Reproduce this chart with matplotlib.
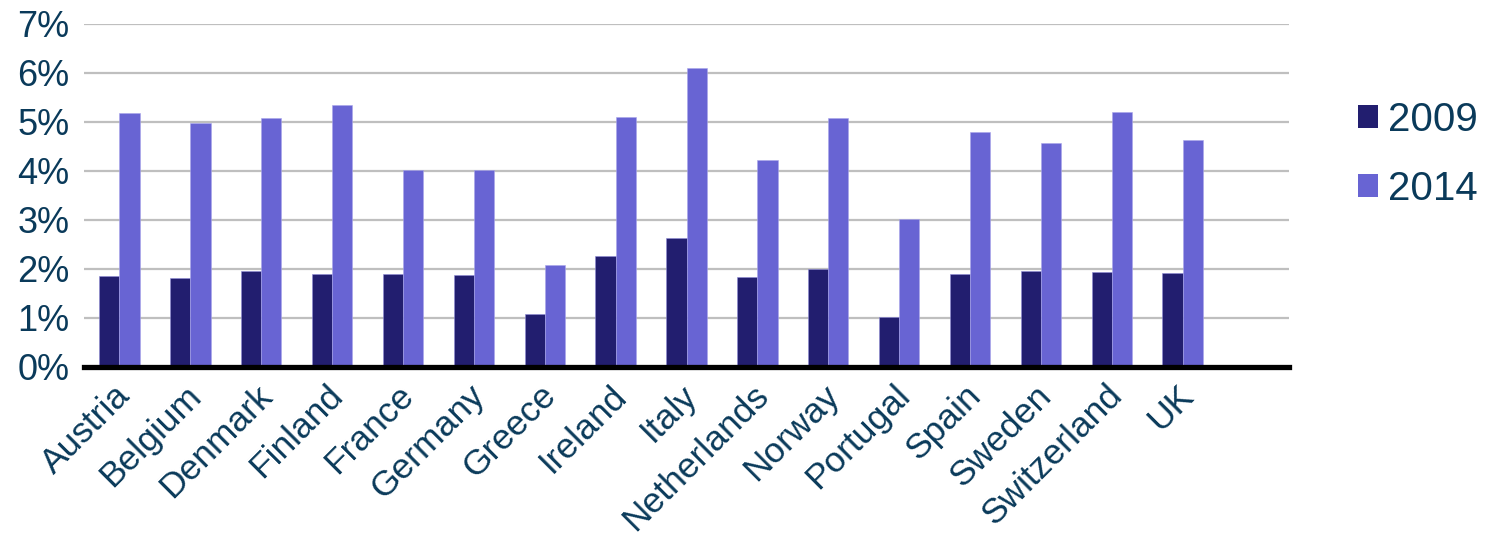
import matplotlib
matplotlib.use("Agg")
import matplotlib.pyplot as plt
from matplotlib.patches import Patch
from matplotlib.transforms import ScaledTranslation
from matplotlib.ticker import FuncFormatter
import numpy as np

countries = ["Austria", "Belgium", "Denmark", "Finland", "France", "Germany",
             "Greece", "Ireland", "Italy", "Netherlands", "Norway", "Portugal",
             "Spain", "Sweden", "Switzerland", "UK"]
share_2009 = [1.85, 1.80, 1.95, 1.89, 1.90, 1.88, 1.08, 2.25, 2.63, 1.84,
              1.99, 1.01, 1.90, 1.96, 1.94, 1.91]
share_2014 = [5.18, 4.97, 5.07, 5.35, 4.01, 4.02, 2.07, 5.09, 6.09, 4.22,
              5.07, 3.01, 4.79, 4.56, 5.20, 4.62]
series_names = ["2009", "2014"]
y_ticks = [0, 1, 2, 3, 4, 5, 6, 7]

C_2009 = "#221E6F"
C_2014 = "#6864D3"
TEXT = "#0A3A5A"

plt.rcParams["font.family"] = ["Liberation Sans", "DejaVu Sans"]

fig = plt.figure(figsize=(14.90, 5.41), dpi=100)
ax = fig.add_axes([0.0564, 0.3222, 0.8087, 0.6340])

x = np.arange(len(countries))
w = 0.285
ax.bar(x - w / 2, share_2009, width=w, color=C_2009, edgecolor="#8f8cd8",
       linewidth=0.4, zorder=3)
ax.bar(x + w / 2, share_2014, width=w, color=C_2014, edgecolor="#a9a6ea",
       linewidth=0.4, zorder=3)

# one empty slot is kept to the right of the last group
ax.set_xlim(-0.5, len(countries) + 0.5)
ax.set_ylim(0, 7)
ax.set_yticks(y_ticks)
ax.yaxis.set_major_formatter(FuncFormatter(lambda v, p: f"{v:.0f}%"))
ax.grid(axis="y", color="#BFBFBF", linewidth=1.6, zorder=0)
ax.set_axisbelow(True)

for s in ["left", "right", "top"]:
    ax.spines[s].set_visible(False)
ax.spines["bottom"].set_color("black")
ax.spines["bottom"].set_linewidth(3.8)
ax.spines["bottom"].set_zorder(4)

ax.tick_params(axis="y", length=0, pad=10.5, labelsize=26, labelcolor=TEXT)
ax.tick_params(axis="x", length=0, pad=0, labelsize=25.5, labelcolor=TEXT)

ax.set_xticks(x)
ax.set_xticklabels(countries, rotation=45, ha="right", va="top",
                   rotation_mode="anchor")
shift = ScaledTranslation(-6 / 100, -12 / 100, fig.dpi_scale_trans)
for lab in ax.get_xticklabels():
    lab.set_transform(lab.get_transform() + shift)

handles = [Patch(facecolor=C_2009, edgecolor="none"),
           Patch(facecolor=C_2014, edgecolor="none")]
leg = fig.legend(handles, series_names, loc="center left",
                 bbox_to_anchor=(1358 / 1490, 0.7145), frameon=False,
                 fontsize=29, handlelength=0.5, handleheight=0.5,
                 handletextpad=0.25, labelspacing=0.765, borderpad=0,
                 borderaxespad=0)
for t in leg.get_texts():
    t.set_color(TEXT)

fig.savefig("out.png", dpi=100)
